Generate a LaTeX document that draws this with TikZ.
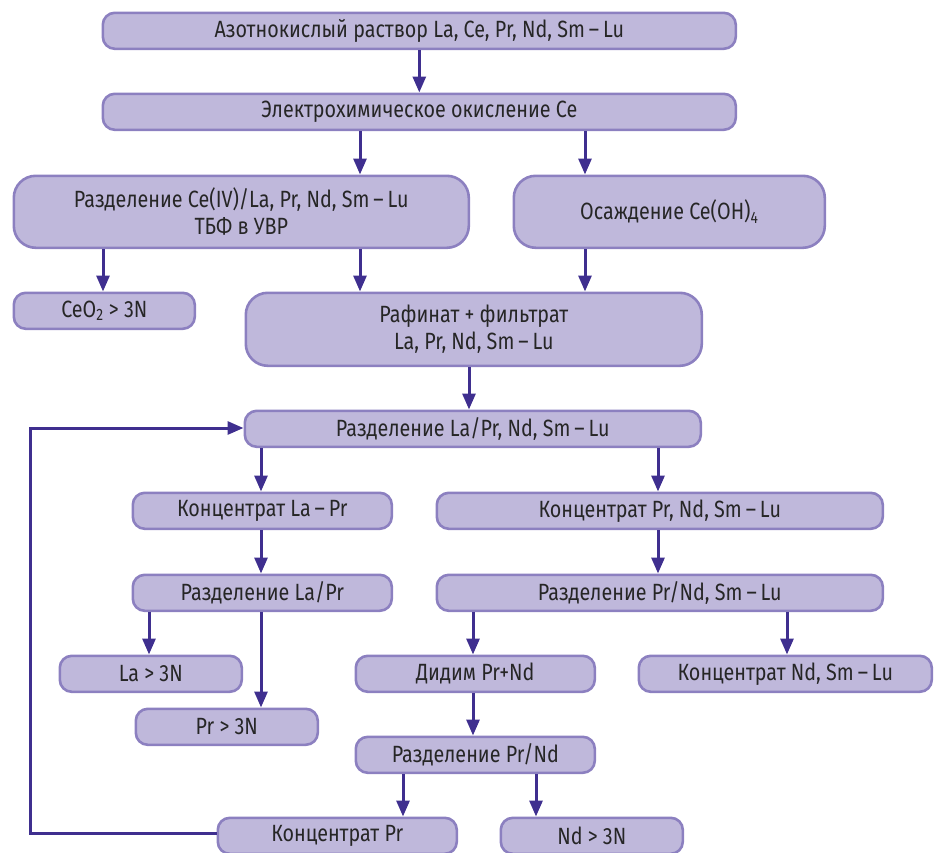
\documentclass[tikz,border=0pt]{standalone}
\usepackage{fontspec}
\setmainfont[FakeStretch=0.84]{Fira Sans}
\usetikzlibrary{arrows.meta}
\definecolor{boxfill}{HTML}{BFB8DB}
\definecolor{boxline}{HTML}{8C80C0}
\definecolor{arr}{HTML}{3F2F8F}
\definecolor{txt}{HTML}{262626}
\newcommand{\smlu}{Sm\,–\,Lu}
\begin{document}
\begin{tikzpicture}[x=1pt,y=-1pt,
 bx/.style={draw=boxline, fill=boxfill, line width=2.6pt, rounded corners=12pt, rectangle, anchor=north west, inner sep=0pt, align=center, text=txt, font=\fontsize{23.5}{27}\selectfont},
 tall/.style={rounded corners=22pt},
 ar/.style={draw=arr, line width=3pt, -{Triangle[length=16pt,width=13pt]}}]
\useasboundingbox (0,0) rectangle (934,852);
\node[bx, minimum width=633pt, minimum height=36pt] (n1) at (101.5,11.5) {Азотнокислый раствор La, Ce, Pr, Nd, \smlu};
\node[bx, minimum width=633pt, minimum height=36pt] (n2) at (101.5,92.5) {Электрохимическое окисление Ce};
\node[bx, tall, minimum width=455pt, minimum height=72pt] (n3) at (12.5,174.5) {Разделение Ce(IV)/La, Pr, Nd, \smlu\\ТБФ в УВР};
\node[bx, tall, minimum width=311pt, minimum height=72pt] (n4) at (512.5,174.5) {Осаждение Ce(OH)\textsubscript{4}};
\node[bx, minimum width=181pt, minimum height=36pt] (n5) at (12.5,291.5) {CeO\textsubscript{2} > 3N};
\node[bx, tall, minimum width=456pt, minimum height=73pt] (n6) at (244.5,291.5) {Рафинат + фильтрат\\La, Pr, Nd, \smlu};
\node[bx, minimum width=456pt, minimum height=36pt] (n7) at (243.5,409.5) {Разделение La/Pr, Nd, \smlu};
\node[bx, minimum width=259pt, minimum height=36pt] (n8) at (131.5,491.5) {Концентрат La\,–\,Pr};
\node[bx, minimum width=446pt, minimum height=36pt] (n9) at (435.5,491.5) {Концентрат Pr, Nd, \smlu};
\node[bx, minimum width=259pt, minimum height=36pt] (n10) at (131.5,573.5) {Разделение La/Pr};
\node[bx, minimum width=446pt, minimum height=36pt] (n11) at (435.5,573.5) {Разделение Pr/Nd, \smlu};
\node[bx, minimum width=182pt, minimum height=36pt] (n12) at (58.5,654.5) {La > 3N};
\node[bx, minimum width=239pt, minimum height=36pt] (n13) at (354.5,654.5) {Дидим Pr+Nd};
\node[bx, minimum width=293pt, minimum height=36pt] (n14) at (637.5,654.5) {Концентрат Nd, \smlu};
\node[bx, minimum width=182pt, minimum height=36pt] (n15) at (134.5,707.5) {Pr > 3N};
\node[bx, minimum width=239pt, minimum height=36pt] (n16) at (354.5,735.5) {Разделение Pr/Nd};
\node[bx, minimum width=239pt, minimum height=36pt] (n17) at (216.5,816.5) {Концентрат Pr};
\node[bx, minimum width=182pt, minimum height=36pt] (n18) at (499.5,816.5) {Nd > 3N};
\draw[ar] (n1.south) -- (n2.north);
\draw[ar] (360,0 |- n2.south) -- (360,0 |- n3.north);
\draw[ar] (585,0 |- n2.south) -- (585,0 |- n4.north);
\draw[ar] (103,0 |- n3.south) -- (103,0 |- n5.north);
\draw[ar] (360,0 |- n3.south) -- (360,0 |- n6.north);
\draw[ar] (585,0 |- n4.south) -- (585,0 |- n6.north);
\draw[ar] (469,0 |- n6.south) -- (469,0 |- n7.north);
\draw[ar] (261,0 |- n7.south) -- (261,0 |- n8.north);
\draw[ar] (658,0 |- n7.south) -- (658,0 |- n9.north);
\draw[ar] (261,0 |- n8.south) -- (261,0 |- n10.north);
\draw[ar] (658,0 |- n9.south) -- (658,0 |- n11.north);
\draw[ar] (149,0 |- n10.south) -- (149,0 |- n12.north);
\draw[ar] (261,0 |- n10.south) -- (261,0 |- n15.north);
\draw[ar] (473,0 |- n11.south) -- (473,0 |- n13.north);
\draw[ar] (787,0 |- n11.south) -- (787,0 |- n14.north);
\draw[ar] (473,0 |- n13.south) -- (473,0 |- n16.north);
\draw[ar] (403,0 |- n16.south) -- (403,0 |- n17.north);
\draw[ar] (536,0 |- n16.south) -- (536,0 |- n18.north);
\coordinate (lb) at (30,833);
\coordinate (lt) at (30,428);
\draw[ar] (n17.west |- lb) -- (lb) -- (lt) -- (n7.west |- lt);
\end{tikzpicture}
\end{document}
